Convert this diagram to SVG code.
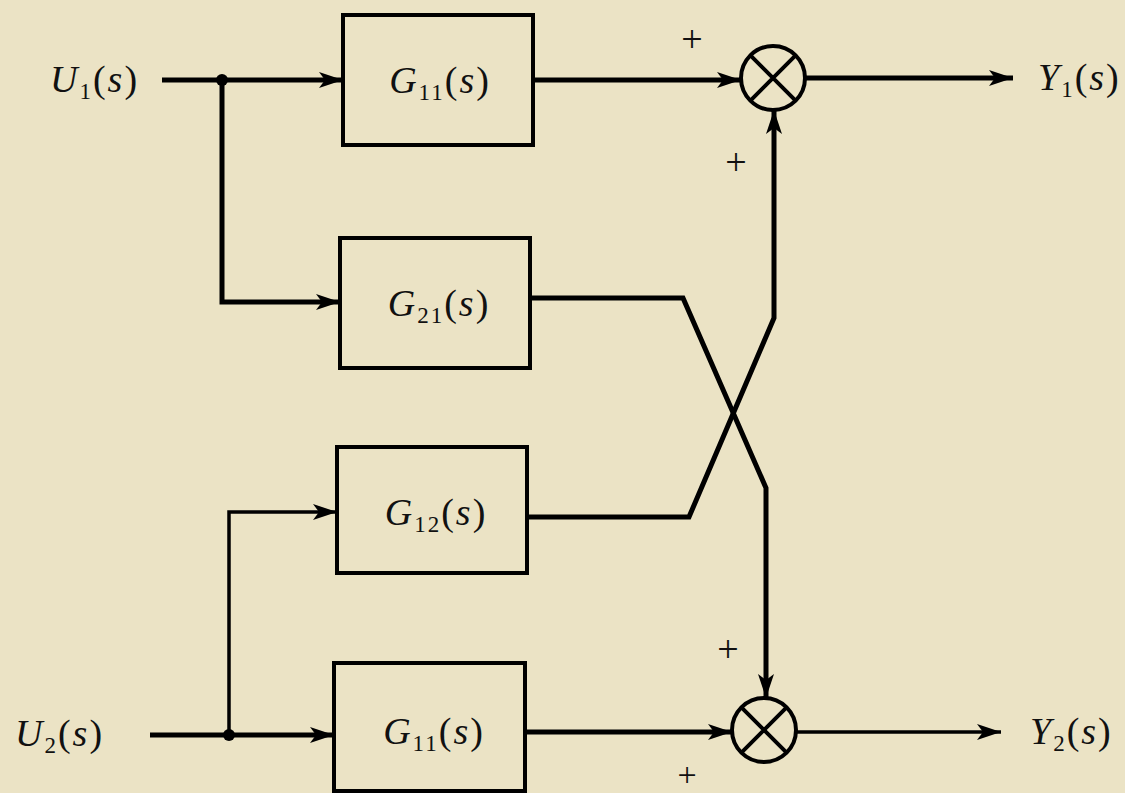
<svg xmlns="http://www.w3.org/2000/svg" width="1125" height="793" viewBox="0 0 1125 793">
<defs>
<marker id="arr" markerUnits="userSpaceOnUse" markerWidth="26" markerHeight="18" refX="24" refY="9" orient="auto">
<path d="M0,1 L24,9 L0,17 L6,9 z" fill="#000"/>
</marker>
<style>
.box{fill:none;stroke:#000;stroke-width:4}
.sum{fill:none;stroke:#000;stroke-width:4}
.w{fill:none;stroke:#000;stroke-width:5;stroke-linejoin:miter}
.t{fill:none;stroke:#000;stroke-width:3.5}
</style>
</defs>
<rect x="0" y="0" width="1125" height="793" fill="#ebe3c5"/>

<g id="connectors">
<path class="w" d="M162,80 H343" marker-end="url(#arr)"/>
<path class="w" d="M222,80 V302 H340" marker-end="url(#arr)"/>
<path class="w" d="M533,80 H741" marker-end="url(#arr)"/>
<path class="w" d="M805,78 H1013" marker-end="url(#arr)"/>
<path class="w" d="M530,298 H683 L766,488 V698" marker-end="url(#arr)"/>
<path class="w" d="M527,517 H689 L774,318 V110" marker-end="url(#arr)"/>
<path class="w" d="M150,735 H334" marker-end="url(#arr)"/>
<path class="t" d="M229,735 V512 H337" marker-end="url(#arr)"/>
<path class="w" d="M525,732 H732" marker-end="url(#arr)"/>
<path class="t" d="M796,732 H1001" marker-end="url(#arr)"/>
<circle cx="222" cy="80" r="6" fill="#000"/>
<circle cx="229" cy="735" r="6" fill="#000"/>
</g>

<g id="U1"><text x="50" y="92" font-family="serif" font-size="38" letter-spacing="2" fill="#111"><tspan font-style="italic">U</tspan><tspan font-size="23" dy="7">1</tspan><tspan dy="-7">(</tspan><tspan font-style="italic">s</tspan>)</text></g>
<g id="U2"><text x="15" y="746" font-family="serif" font-size="38" letter-spacing="2" fill="#111"><tspan font-style="italic">U</tspan><tspan font-size="23" dy="7">2</tspan><tspan dy="-7">(</tspan><tspan font-style="italic">s</tspan>)</text></g>
<g id="Y1"><text x="1038" y="90" font-family="serif" font-size="38" letter-spacing="2" fill="#111"><tspan font-style="italic">Y</tspan><tspan font-size="23" dy="7">1</tspan><tspan dy="-7">(</tspan><tspan font-style="italic">s</tspan>)</text></g>
<g id="Y2"><text x="1030" y="744" font-family="serif" font-size="38" letter-spacing="2" fill="#111"><tspan font-style="italic">Y</tspan><tspan font-size="23" dy="7">2</tspan><tspan dy="-7">(</tspan><tspan font-style="italic">s</tspan>)</text></g>

<g id="G11top">
<rect class="box" x="343" y="15" width="190" height="130"/>
<text x="440" y="93" text-anchor="middle" font-family="serif" font-size="38" letter-spacing="2" fill="#111"><tspan font-style="italic">G</tspan><tspan font-size="23" dy="7">11</tspan><tspan dy="-7">(</tspan><tspan font-style="italic">s</tspan>)</text>
</g>
<g id="G21">
<rect class="box" x="340" y="238" width="190" height="130"/>
<text x="439" y="316" text-anchor="middle" font-family="serif" font-size="38" letter-spacing="2" fill="#111"><tspan font-style="italic">G</tspan><tspan font-size="23" dy="7">21</tspan><tspan dy="-7">(</tspan><tspan font-style="italic">s</tspan>)</text>
</g>
<g id="G12">
<rect class="box" x="337" y="447" width="190" height="126"/>
<text x="436" y="525" text-anchor="middle" font-family="serif" font-size="38" letter-spacing="2" fill="#111"><tspan font-style="italic">G</tspan><tspan font-size="23" dy="7">12</tspan><tspan dy="-7">(</tspan><tspan font-style="italic">s</tspan>)</text>
</g>
<g id="G11bot">
<rect class="box" x="334" y="663" width="191" height="128"/>
<text x="434" y="744" text-anchor="middle" font-family="serif" font-size="38" letter-spacing="2" fill="#111"><tspan font-style="italic">G</tspan><tspan font-size="23" dy="7">11</tspan><tspan dy="-7">(</tspan><tspan font-style="italic">s</tspan>)</text>
</g>

<g id="signs">
<text x="692" y="52" text-anchor="middle" font-family="serif" font-size="38" fill="#111">+</text>
<text x="736" y="175" text-anchor="middle" font-family="serif" font-size="38" fill="#111">+</text>
<text x="728" y="662" text-anchor="middle" font-family="serif" font-size="38" fill="#111">+</text>
<text x="687" y="786" text-anchor="middle" font-family="serif" font-size="34" fill="#111">+</text>
</g>

<g id="sum1">
<circle class="sum" cx="773" cy="78" r="32"/>
<path class="sum" d="M750.4,55.4 L795.6,100.6 M795.6,55.4 L750.4,100.6"/>
</g>
<g id="sum2">
<circle class="sum" cx="764" cy="730" r="32"/>
<path class="sum" d="M741.4,707.4 L786.6,752.6 M786.6,707.4 L741.4,752.6"/>
</g>
</svg>
